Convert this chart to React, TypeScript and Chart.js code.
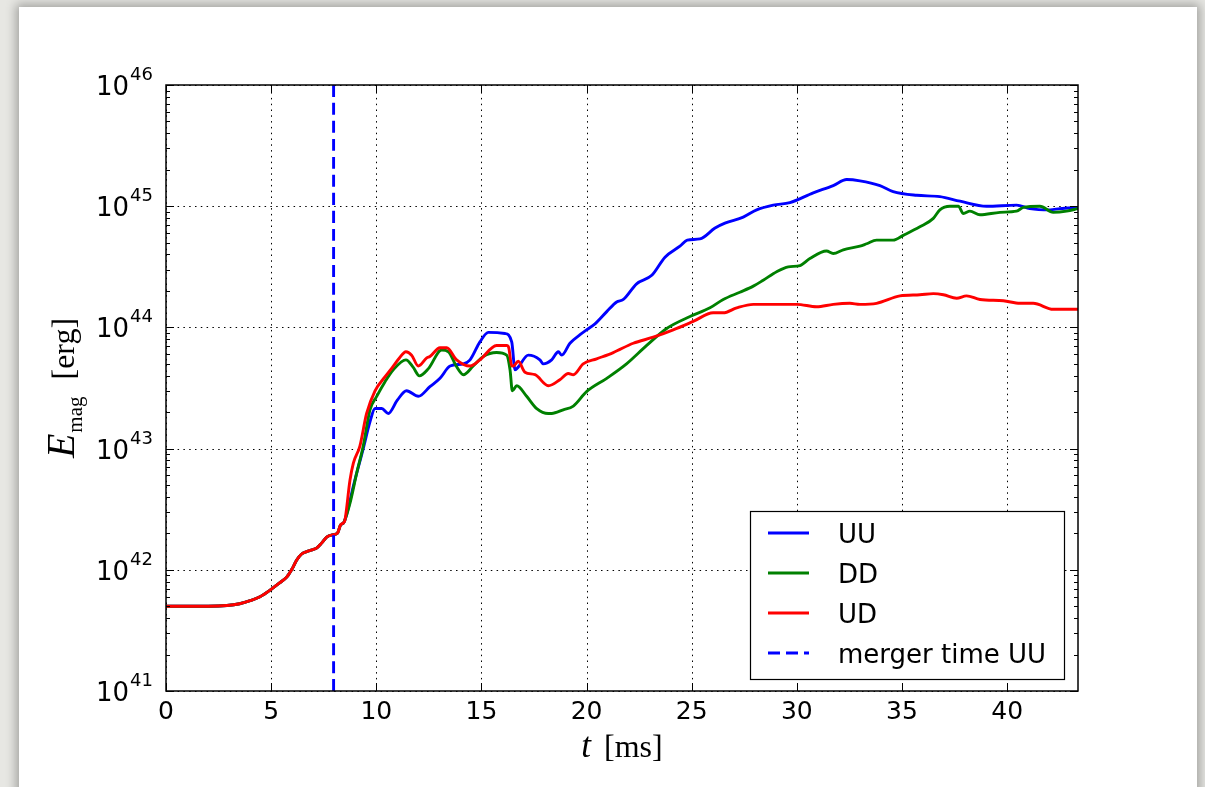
import { useEffect, useRef } from "react";
import { Chart, registerables } from "chart.js";

Chart.register(...registerables);

// Shared early growth phase (identical for all three runs), t in ms, E in erg
const onsetTime = [0, 1, 2, 2.9, 3.5, 4.0, 4.47, 5.0, 5.4, 5.74, 6.0, 6.21, 6.45, 6.69, 6.95, 7.16, 7.4, 7.64, 7.96, 8.15, 8.3, 8.45];
const onsetEnergy = [5.0e41, 5.0e41, 5.0e41, 5.07e41, 5.25e41, 5.56e41, 6.0e41, 6.9e41, 7.8e41, 8.7e41, 1.02e42, 1.2e42, 1.35e42, 1.41e42, 1.46e42, 1.51e42, 1.66e42, 1.86e42, 1.95e42, 2.0e42, 2.34e42, 2.45e42];

// UU run after the onset
const uuTime = [8.6, 8.91, 9.38, 9.7, 9.94, 10.26, 10.57, 11.0, 11.44, 12.0, 12.55, 13.03, 13.51, 14.14, 14.46, 14.93, 15.33, 16.12, 16.44, 16.6, 16.75, 17.23, 17.78, 17.94, 18.34, 18.66, 18.82, 19.21, 19.69, 20.0, 20.4, 20.96, 21.43, 21.75, 22.38, 23.1, 23.73, 24.44, 24.79, 25.39, 26.11, 26.58, 27.45, 28.09, 28.88, 29.67, 30.78, 31.73, 32.37, 33.0, 33.95, 34.58, 35.7, 36.8, 37.76, 39.02, 40.45, 41.08, 42.04, 42.51, 43.37];
const uuEnergy = [2.9e42, 4.9e42, 1.0e43, 1.66e43, 2.14e43, 2.14e43, 1.95e43, 2.51e43, 3.0e43, 2.7e43, 3.24e43, 3.8e43, 4.8e43, 5.0e43, 5.4e43, 7.6e43, 9.1e43, 8.9e43, 7.6e43, 4.47e43, 4.7e43, 5.9e43, 5.4e43, 5.0e43, 5.4e43, 6.3e43, 5.9e43, 7.4e43, 8.7e43, 9.55e43, 1.07e44, 1.35e44, 1.62e44, 1.7e44, 2.29e44, 2.69e44, 3.8e44, 4.68e44, 5.25e44, 5.37e44, 6.6e44, 7.24e44, 8.13e44, 9.33e44, 1.02e45, 1.07e45, 1.29e45, 1.48e45, 1.66e45, 1.62e45, 1.48e45, 1.32e45, 1.23e45, 1.2e45, 1.1e45, 1.0e45, 1.02e45, 9.55e44, 9.33e44, 9.55e44, 9.77e44];

// DD run after the onset
const ddTime = [8.75, 9.07, 9.38, 9.7, 10.02, 10.41, 10.81, 11.41, 11.75, 12.05, 12.48, 13.11, 13.43, 13.8, 14.14, 14.61, 15.09, 15.72, 16.2, 16.36, 16.47, 16.68, 17.15, 17.63, 18.18, 18.34, 18.89, 19.37, 20.0, 20.96, 21.9, 22.86, 23.81, 24.92, 25.87, 26.5, 27.29, 27.93, 28.4, 29.04, 29.59, 30.15, 30.62, 31.41, 31.73, 32.21, 33.0, 33.32, 33.79, 34.58, 35.06, 35.85, 36.49, 36.8, 37.28, 37.68, 37.92, 38.23, 38.71, 39.66, 40.45, 40.77, 41.56, 42.19, 42.83, 43.37];
const ddEnergy = [3.55e42, 6.3e42, 1.05e43, 2.09e43, 2.7e43, 3.55e43, 4.47e43, 5.4e43, 4.7e43, 3.98e43, 4.57e43, 6.5e43, 6.3e43, 4.8e43, 4.07e43, 4.8e43, 5.75e43, 6.2e43, 5.9e43, 4.47e43, 3.0e43, 3.3e43, 2.7e43, 2.14e43, 1.95e43, 1.95e43, 2.09e43, 2.24e43, 2.95e43, 3.8e43, 5.0e43, 7.1e43, 9.8e43, 1.23e44, 1.45e44, 1.7e44, 1.95e44, 2.19e44, 2.45e44, 2.88e44, 3.16e44, 3.24e44, 3.7e44, 4.27e44, 4.07e44, 4.37e44, 4.68e44, 4.9e44, 5.25e44, 5.25e44, 5.75e44, 6.76e44, 7.94e44, 9.33e44, 1.0e45, 1.0e45, 8.7e44, 9.1e44, 8.5e44, 8.9e44, 9.1e44, 9.77e44, 1.0e45, 8.9e44, 9.1e44, 9.55e44];

// UD run after the onset
const udTime = [8.51, 8.75, 8.91, 9.22, 9.54, 9.94, 10.41, 10.81, 11.1, 11.41, 11.68, 12.0, 12.4, 12.55, 13.03, 13.35, 13.82, 14.46, 14.93, 15.72, 16.2, 16.3, 16.44, 16.52, 16.75, 17.07, 17.55, 18.18, 18.73, 19.13, 19.37, 19.84, 20.48, 21.27, 22.22, 23.17, 24.12, 25.07, 26.02, 26.5, 27.14, 27.93, 29.2, 29.99, 30.94, 31.73, 32.52, 33.0, 33.79, 34.9, 35.85, 36.49, 36.97, 37.6, 38.07, 38.71, 39.82, 40.61, 41.24, 42.19, 43.37];
const udEnergy = [2.57e42, 5.5e42, 7.6e42, 1.05e43, 1.95e43, 3.0e43, 3.9e43, 4.8e43, 5.6e43, 6.3e43, 5.9e43, 4.8e43, 5.6e43, 5.75e43, 6.8e43, 6.8e43, 5.4e43, 4.8e43, 5.4e43, 7.1e43, 7.1e43, 6.8e43, 4.8e43, 4.8e43, 5.25e43, 4.27e43, 4.07e43, 3.3e43, 3.7e43, 4.17e43, 4.07e43, 5.0e43, 5.5e43, 6.2e43, 7.4e43, 8.3e43, 9.55e43, 1.12e44, 1.32e44, 1.32e44, 1.45e44, 1.55e44, 1.55e44, 1.55e44, 1.48e44, 1.55e44, 1.58e44, 1.55e44, 1.58e44, 1.82e44, 1.86e44, 1.9e44, 1.86e44, 1.74e44, 1.82e44, 1.7e44, 1.66e44, 1.58e44, 1.58e44, 1.41e44, 1.41e44];

const mergerTimeUU = 7.97;

const xTicks = [0, 5, 10, 15, 20, 25, 30, 35, 40];
const yDecades = [41, 42, 43, 44, 45, 46];
const tMin = 0;
const tMax = 43.37;

const seriesLabels = ["UU", "DD", "UD", "merger time UU"];
const seriesColors = ["#0000ff", "#008000", "#ff0000", "#0000ff"];

const LINE_WIDTH = 2.9;
const MERGER_DASH = [12, 6];
const GRID_DASH = [1.5, 4.3];

function toPoints(t: number[], e: number[]) {
  return t.map((x, i) => ({ x, y: e[i] }));
}

const tickFont = '"DejaVu Sans", "Noto Sans", sans-serif';
const mathFont = '"Liberation Serif", "DejaVu Serif", serif';

const axesPlugin = {
  id: "framedAxes",
  beforeDatasetsDraw(chart: any) {
    const { ctx, chartArea: a, scales } = chart;
    const xs = scales.x;
    const ys = scales.y;
    ctx.save();
    ctx.strokeStyle = "#000";
    ctx.lineWidth = 1;
    ctx.setLineDash(GRID_DASH);
    for (const t of xTicks) {
      const px = Math.round(xs.getPixelForValue(t)) + 0.5;
      ctx.beginPath();
      ctx.moveTo(px, a.bottom);
      ctx.lineTo(px, a.top);
      ctx.stroke();
    }
    for (const d of yDecades) {
      const py = Math.round(ys.getPixelForValue(Math.pow(10, d))) + 0.5;
      ctx.beginPath();
      ctx.moveTo(a.left, py);
      ctx.lineTo(a.right, py);
      ctx.stroke();
    }
    ctx.restore();
  },
  afterDatasetsDraw(chart: any) {
    const { ctx, chartArea: a, scales } = chart;
    const xs = scales.x;
    const ys = scales.y;
    ctx.save();
    ctx.setLineDash([]);
    ctx.strokeStyle = "#000";
    ctx.fillStyle = "#000";

    // inward tick marks on all four sides
    ctx.lineWidth = 1;
    const major = 8;
    const minor = 4;
    ctx.beginPath();
    for (const t of xTicks) {
      const px = Math.round(xs.getPixelForValue(t)) + 0.5;
      ctx.moveTo(px, a.bottom);
      ctx.lineTo(px, a.bottom - major);
      ctx.moveTo(px, a.top);
      ctx.lineTo(px, a.top + major);
    }
    for (const d of yDecades) {
      const py = Math.round(ys.getPixelForValue(Math.pow(10, d))) + 0.5;
      ctx.moveTo(a.left, py);
      ctx.lineTo(a.left + major, py);
      ctx.moveTo(a.right, py);
      ctx.lineTo(a.right - major, py);
      if (d < yDecades[yDecades.length - 1]) {
        for (let m = 2; m <= 9; m++) {
          const pm = Math.round(ys.getPixelForValue(m * Math.pow(10, d))) + 0.5;
          ctx.moveTo(a.left, pm);
          ctx.lineTo(a.left + minor, pm);
          ctx.moveTo(a.right, pm);
          ctx.lineTo(a.right - minor, pm);
        }
      }
    }
    ctx.stroke();

    // frame
    ctx.lineWidth = 1.5;
    ctx.strokeRect(a.left, a.top, a.right - a.left, a.bottom - a.top);

    // x tick labels
    ctx.font = `25px ${tickFont}`;
    ctx.textAlign = "center";
    ctx.textBaseline = "alphabetic";
    for (const t of xTicks) {
      ctx.fillText(String(t), xs.getPixelForValue(t), a.bottom + 28);
    }

    // y tick labels as 10 with a raised exponent
    for (const d of yDecades) {
      const py = ys.getPixelForValue(Math.pow(10, d));
      ctx.font = `26px ${tickFont}`;
      ctx.textAlign = "right";
      ctx.fillText("10", a.left - 37, py + 10);
      ctx.font = `18px ${tickFont}`;
      ctx.textAlign = "left";
      ctx.fillText(String(d), a.left - 36, py - 5);
    }

    // x axis title: t [ms]
    {
      ctx.textAlign = "left";
      const fT = `italic 35px ${mathFont}`;
      const fU = `32px ${mathFont}`;
      ctx.font = fT;
      const wT = ctx.measureText("t").width;
      ctx.font = fU;
      const wU = ctx.measureText("[ms]").width;
      const gap = 13;
      const total = wT + gap + wU;
      let cx = (a.left + a.right) / 2 - total / 2;
      const base = a.bottom + 66;
      ctx.font = fT;
      ctx.fillText("t", cx, base);
      cx += wT + gap;
      ctx.font = fU;
      ctx.fillText("[ms]", cx, base);
    }

    // y axis title: E_mag [erg]
    {
      const fE = `italic 40px ${mathFont}`;
      const fS = `21px ${mathFont}`;
      const fU = `32px ${mathFont}`;
      ctx.font = fE;
      const wE = ctx.measureText("E").width;
      ctx.font = fS;
      const wS = ctx.measureText("mag").width;
      ctx.font = fU;
      const wU = ctx.measureText("[erg]").width;
      const gap = 17;
      const total = wE + 1 + wS + gap + wU;
      ctx.translate(a.left - 92, (a.top + a.bottom) / 2 + total / 2);
      ctx.rotate(-Math.PI / 2);
      ctx.textAlign = "left";
      let cx = 0;
      ctx.font = fE;
      ctx.fillText("E", cx, 0);
      cx += wE + 1;
      ctx.font = fS;
      ctx.fillText("mag", cx, 8);
      cx += wS + gap;
      ctx.font = fU;
      ctx.fillText("[erg]", cx, 0);
    }
    ctx.restore();
  },
  afterDraw(chart: any) {
    const { ctx, chartArea: a } = chart;
    const datasets = chart.data.datasets;
    const boxW = 314;
    const boxH = 168;
    const right = a.right - 14;
    const bottom = a.bottom - 12;
    const left = right - boxW;
    const top = bottom - boxH;
    ctx.save();
    ctx.fillStyle = "#fff";
    ctx.fillRect(left, top, boxW, boxH);
    ctx.strokeStyle = "#000";
    ctx.lineWidth = 1.2;
    ctx.setLineDash([]);
    ctx.strokeRect(left + 0.5, top + 0.5, boxW, boxH);
    ctx.font = `26px ${tickFont}`;
    ctx.textAlign = "left";
    ctx.textBaseline = "alphabetic";
    datasets.forEach((ds: any, i: number) => {
      const cy = top + 22 + i * 40;
      ctx.strokeStyle = ds.borderColor;
      ctx.lineWidth = ds.borderWidth;
      ctx.setLineDash(ds.borderDash || []);
      ctx.beginPath();
      ctx.moveTo(left + 18, cy);
      ctx.lineTo(left + 59, cy);
      ctx.stroke();
      ctx.setLineDash([]);
      ctx.fillStyle = "#000";
      ctx.fillText(ds.label, left + 88, cy + 10);
    });
    ctx.restore();
  },
};

export default function App() {
  const canvasRef = useRef<HTMLCanvasElement | null>(null);

  useEffect(() => {
    const canvas = canvasRef.current;
    if (!canvas) return;
    const uu = toPoints(onsetTime.concat(uuTime), onsetEnergy.concat(uuEnergy));
    const dd = toPoints(onsetTime.concat(ddTime), onsetEnergy.concat(ddEnergy));
    const ud = toPoints(onsetTime.concat(udTime), onsetEnergy.concat(udEnergy));
    const merger = [
      { x: mergerTimeUU, y: Math.pow(10, yDecades[0]) },
      { x: mergerTimeUU, y: Math.pow(10, yDecades[yDecades.length - 1]) },
    ];
    const line = (label: string, color: string, data: any[], order: number, dash?: number[]) => ({
      label,
      data,
      borderColor: color,
      backgroundColor: color,
      borderWidth: LINE_WIDTH,
      borderDash: dash,
      pointRadius: 0,
      fill: false,
      cubicInterpolationMode: "monotone" as const,
      borderJoinStyle: "round" as const,
      order,
    });
    const chart = new Chart(canvas, {
      type: "line",
      data: {
        datasets: [
          line(seriesLabels[0], seriesColors[0], uu, 3),
          line(seriesLabels[1], seriesColors[1], dd, 2),
          line(seriesLabels[2], seriesColors[2], ud, 1),
          line(seriesLabels[3], seriesColors[3], merger, 0, MERGER_DASH),
        ],
      },
      options: {
        responsive: false,
        animation: false,
        events: [],
        layout: { padding: { left: 166, right: 127, top: 85, bottom: 96 } },
        plugins: { legend: { display: false }, tooltip: { enabled: false } },
        scales: {
          x: { type: "linear", min: tMin, max: tMax, display: false },
          y: {
            type: "logarithmic",
            min: Math.pow(10, yDecades[0]),
            max: Math.pow(10, yDecades[yDecades.length - 1]),
            display: false,
          },
        },
      },
      plugins: [axesPlugin],
    });
    return () => chart.destroy();
  }, []);

  return (
    <div
      style={{
        position: "fixed",
        left: 0,
        top: 0,
        width: 1205,
        height: 787,
        overflow: "hidden",
        background: "#e7e7e3",
      }}
    >
      <div
        style={{
          position: "absolute",
          left: 19,
          top: 7,
          width: 1178,
          height: 800,
          background: "#ffffff",
          boxShadow: "0 0 10px 3px rgba(0,0,0,0.3)",
        }}
      />
      <canvas
        ref={canvasRef}
        width={1205}
        height={787}
        style={{ position: "absolute", left: 0, top: 0, display: "block" }}
      />
    </div>
  );
}
